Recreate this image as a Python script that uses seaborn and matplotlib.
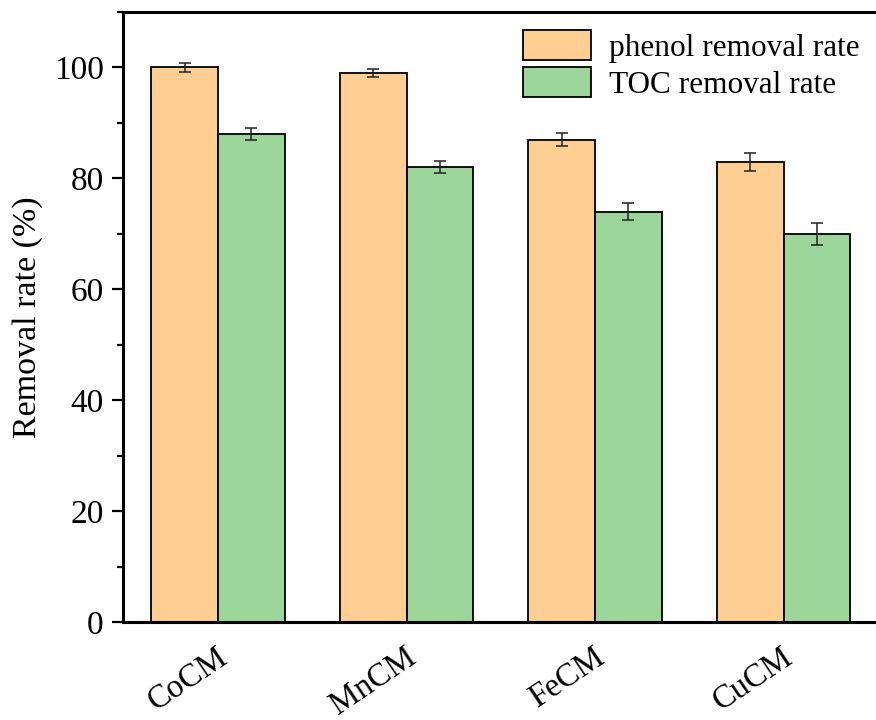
import matplotlib
matplotlib.use("Agg")
import matplotlib.pyplot as plt
import matplotlib.transforms as mtransforms
import seaborn as sns
import pandas as pd
from matplotlib.ticker import MultipleLocator

categories = ["CoCM", "MnCM", "FeCM", "CuCM"]
series = ["phenol removal rate", "TOC removal rate"]
phenol = [100, 99, 87, 83]
toc = [88, 82, 74, 70]
phenol_err = [0.75, 0.75, 1.2, 1.6]
toc_err = [1.05, 1.1, 1.5, 2.0]

df = pd.DataFrame({
    "cat": categories * 2,
    "series": [series[0]] * 4 + [series[1]] * 4,
    "val": phenol + toc,
    "err": phenol_err + toc_err,
})

sns.set_theme(style="ticks")
plt.rcParams["font.family"] = ["Liberation Serif", "DejaVu Serif"]
for k in ["text.color", "axes.labelcolor", "xtick.color", "ytick.color", "axes.edgecolor"]:
    plt.rcParams[k] = "black"

fig = plt.figure(figsize=(8.76, 7.2), dpi=100)
ax = fig.add_axes([123 / 876, 1 - 622 / 720, 1 - 123 / 876 + 0.002, (622 - 12) / 720])

palette = ["#FECE93", "#9CD69A"]
sns.barplot(data=df, x="cat", y="val", hue="series", palette=palette,
            width=0.706, edgecolor="black", linewidth=1.3, ax=ax,
            errorbar=None, saturation=1)

for cont, errs in zip(ax.containers, [phenol_err, toc_err]):
    for bar, e in zip(cont, errs):
        xc = bar.get_x() + bar.get_width() / 2
        ax.errorbar(xc, bar.get_height(), yerr=e, fmt="none", ecolor="#222222",
                    elinewidth=1.1, capsize=4.5, capthick=1.1, zorder=5)

ax.set_ylim(0, 110)
ax.set_xlim(-0.504, 3.5)
ax.yaxis.set_major_locator(MultipleLocator(20))
ax.yaxis.set_minor_locator(MultipleLocator(10))
ax.tick_params(axis="y", which="major", length=8, width=1.6, labelsize=24, pad=6)
ax.tick_params(axis="y", which="minor", length=4.5, width=1.6)
ax.tick_params(axis="x", which="both", length=0, labelsize=23.5, pad=14)
offset = mtransforms.ScaledTranslation(15 / 100, 0, fig.dpi_scale_trans)
for lbl in ax.get_xticklabels():
    lbl.set_rotation(34)
    lbl.set_ha("right")
    lbl.set_transform(lbl.get_transform() + offset)
for s in ["left", "top", "bottom"]:
    ax.spines[s].set_linewidth(2.2)
ax.spines["right"].set_visible(False)
ax.set_xlabel("")
ax.set_ylabel("Removal rate (%)", fontsize=24.5, labelpad=8)

leg = ax.legend(loc="upper right", bbox_to_anchor=(860 / 876, 1 - 30 / 720),
                bbox_transform=fig.transFigure, frameon=False,
                fontsize=22.5, handlelength=2.2, handleheight=1.12,
                handletextpad=0.58, labelspacing=0.13, borderaxespad=0,
                borderpad=0)
for h in leg.legend_handles:
    h.set_edgecolor("black")
    h.set_linewidth(1.3)

fig.savefig("out.png", dpi=100)
